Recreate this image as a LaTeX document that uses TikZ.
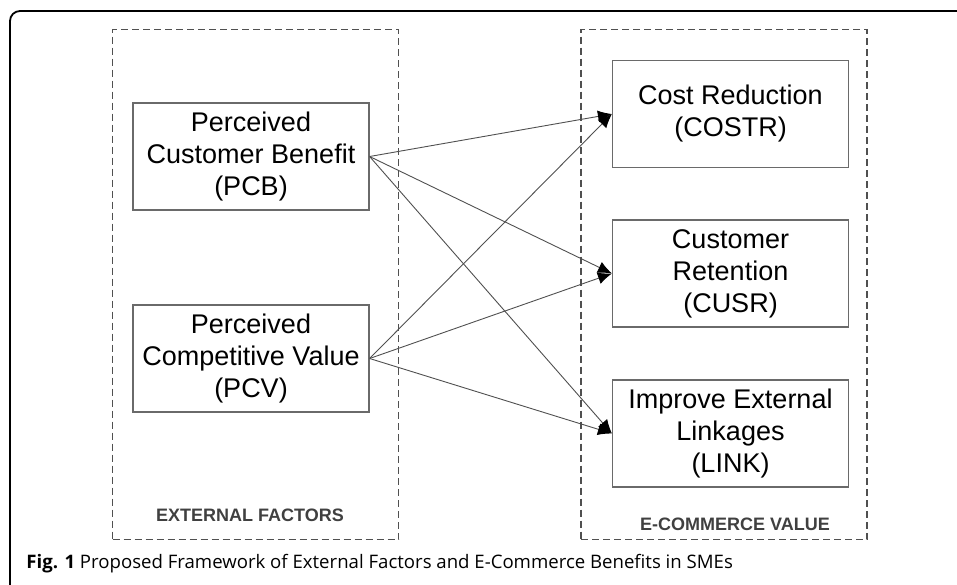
\documentclass[tikz,border=0pt]{standalone}
\usepackage{fontspec}
\setmainfont{Liberation Sans}
\newfontfamily\captionfont{Open Sans}
\usepackage{tikz}
\usepackage{xcolor}
\usetikzlibrary{arrows.meta}
\definecolor{boxgray}{HTML}{6A6A6A}
\definecolor{linegray}{HTML}{505050}
\definecolor{labelgray}{HTML}{404040}
\tikzstyle{factor} = [draw=boxgray, line width=0.6pt, minimum width=118pt, minimum height=53.5pt, inner sep=0pt, align=center, font=\fontsize{13.5}{16}\selectfont]
\tikzstyle{group} = [draw=linegray, line width=0.75pt, dash pattern=on 3.5pt off 2pt, inner sep=0pt]
\tikzstyle{grouplabel} = [text=labelgray, font=\bfseries\fontsize{9}{10}\selectfont]
\tikzstyle{line} = [draw=linegray, line width=0.45pt, -{Latex[length=7pt,width=6pt,fill=black,color=black]}]

\begin{document}
\begin{tikzpicture}[x=0.5pt, y=-0.5pt]
\useasboundingbox (0,0) rectangle (957,584);

% outer frame
\draw[line width=0.9pt, rounded corners=5pt] (10,590) -- (10,11) -- (962,11);

% groups
\node[group, minimum width=143pt, minimum height=255pt] (ext) at (255.5,284.5) {};
\node[group, minimum width=143pt, minimum height=255pt] (eco) at (724,284.5) {};
\node[grouplabel] (extlabel) at (250,515) {EXTERNAL FACTORS};
\node[grouplabel] (ecolabel) at (735,524) {E-COMMERCE VALUE};

% factors
\node[factor] (pcb) at (251,156.5) {Perceived\\Customer Benefit\\(PCB)};
\node[factor] (pcv) at (251,358.5) {Perceived\\Competitive Value\\(PCV)};

% values
\node[factor] (costr) at (730.5,114) {Cost Reduction\\(COSTR)};
\node[factor] (cusr) at (730.5,273.5) {Customer\\Retention\\(CUSR)};
\node[factor] (link) at (730.5,433.5) {Improve External\\Linkages\\(LINK)};

\draw[line] (pcb.east) -- (costr.west);
\draw[line] (pcb.east) -- (cusr.west);
\draw[line] (pcb.east) -- (link.west);
\draw[line] (pcv.east) -- (costr.west);
\draw[line] (pcv.east) -- (cusr.west);
\draw[line] (pcv.east) -- (link.west);

\node[anchor=base west, inner sep=0pt, font=\captionfont\fontsize{9.3}{11}\selectfont] (caption) at (26,568)
    {\textbf{Fig. 1} Proposed Framework of External Factors and E-Commerce Benefits in SMEs};
\end{tikzpicture}
\end{document}
